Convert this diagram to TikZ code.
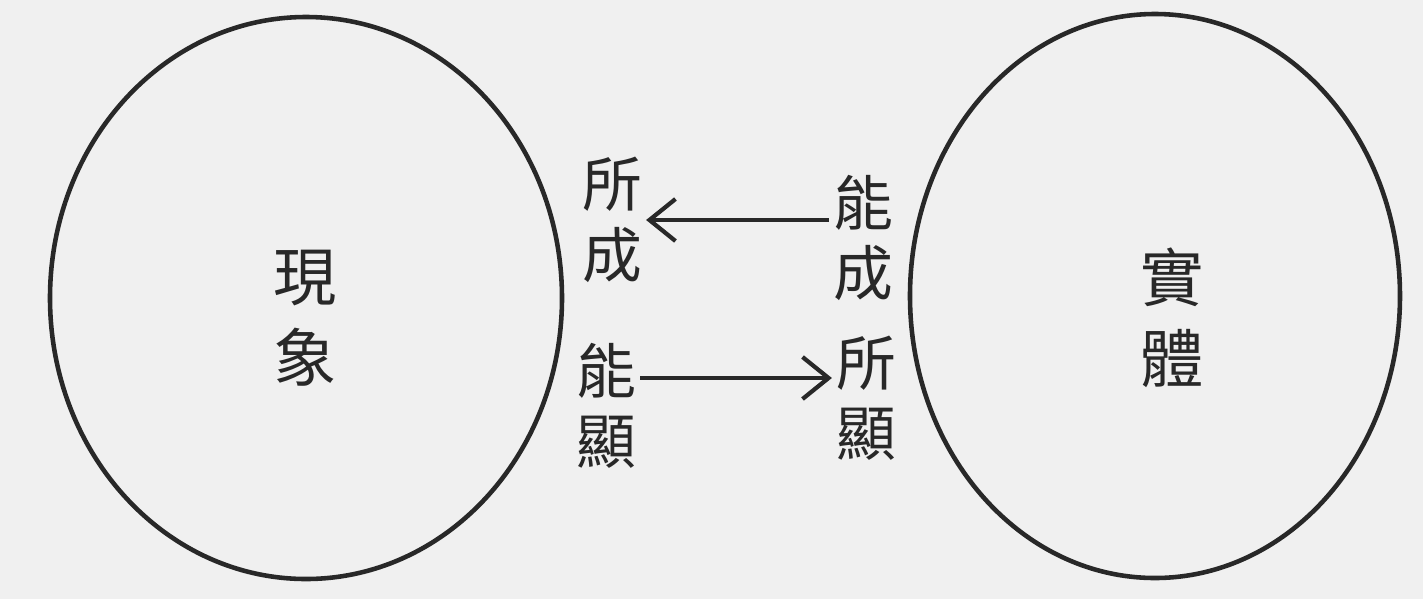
\documentclass[tikz,border=0pt]{standalone}
\usepackage{fontspec}
\newfontfamily\cjk{Noto Sans CJK TC}
\usetikzlibrary{arrows.meta}
\definecolor{paper}{RGB}{240,240,240}
\definecolor{ink}{RGB}{40,40,40}
\tikzset{
  word/.style={font=\cjk\fontsize{17}{20}\selectfont,align=center,text=ink,inner sep=1pt},
  bigword/.style={font=\cjk\fontsize{18}{23}\selectfont,align=center,text=ink,inner sep=1pt},
  arr/.style={draw=ink,line width=1.4pt,-{Straight Barb[length=2.6mm,width=4.2mm,line width=1.2pt]}}
}
\begin{document}
\begin{tikzpicture}[x=0.01cm,y=-0.01cm]
\fill[paper] (0,0) rectangle (1423,599);
\useasboundingbox (0,0) rectangle (1423,599);
\draw[ink,line width=1.3pt] (306,298) ellipse[x radius=256,y radius=281];
\draw[ink,line width=1.3pt] (1155,296) ellipse[x radius=245,y radius=282];
\node[bigword] (xianxiang) at (305,318) {現\\象};
\node[bigword] (shiti) at (1172,318) {實\\體};
\node[word] (suocheng) at (612,220) {所\\成};
\node[word] (nengcheng) at (863,238) {能\\成};
\node[word] (nengxian) at (606,406) {能\\顯};
\node[word] (suoxian) at (866,398) {所\\顯};
\draw[arr] (nengcheng.west |- 0,220) -- (suocheng.east |- 0,220);
\draw[arr] (nengxian.east |- 0,378) -- (suoxian.west |- 0,378);
\end{tikzpicture}
\end{document}
